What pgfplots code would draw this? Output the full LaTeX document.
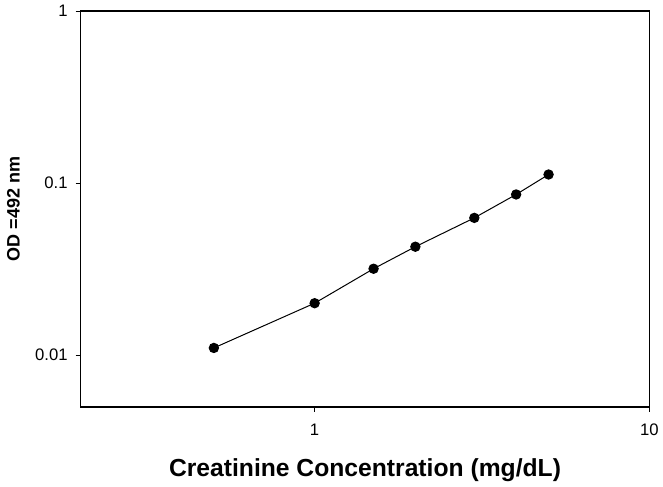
\documentclass[border=0pt]{standalone}
\usepackage{fontspec}
\setmainfont{Liberation Sans}
\usepackage{pgfplots}
\pgfplotsset{compat=1.18}
\begin{document}
\begin{tikzpicture}
\useasboundingbox (0,0) rectangle (497.25pt,364.5pt);
\begin{loglogaxis}[
  at={(60.5pt,59.25pt)}, anchor=south west,
  scale only axis,
  width=426.5pt, height=297pt,
  xmin=0.2, xmax=10, ymin=0.005, ymax=1,
  xtick={1,10}, xticklabels={1,10},
  ytick={0.01,0.1,1}, yticklabels={0.01,0.1,1},
  xminorticks=false, yminorticks=false,
  tick pos=left, tick align=outside,
  major tick length=3.75pt,
  axis line style={line width=0.9pt},
  every tick/.style={black, line width=0.7pt},
  /pgf/number format/assume math mode=true,
  ticklabel style={font=\fontsize{12.5}{14}\selectfont},
  xticklabel style={yshift=-5.5pt},
  yticklabel style={xshift=-2.5pt},
  xlabel={\textbf{Creatinine Concentration (mg/dL)}},
  ylabel={\textbf{OD =492 nm}},
  xlabel style={font=\fontsize{18.5}{22}\selectfont, at={(axis description cs:0.5,0)}, anchor=center, yshift=-47.5pt},
  ylabel style={font=\fontsize{13.5}{16}\selectfont, at={(axis description cs:0,0.5)}, anchor=center, yshift=50.4pt},
]
\addplot[black, line width=0.75pt, mark=*, mark size=3.5pt, mark options={fill=black}]
coordinates {
(0.5,0.01102) (1,0.02005) (1.5,0.0318) (2,0.0427) (3,0.0628) (4,0.0859) (5,0.1122)
};
\end{loglogaxis}
\end{tikzpicture}
\end{document}
